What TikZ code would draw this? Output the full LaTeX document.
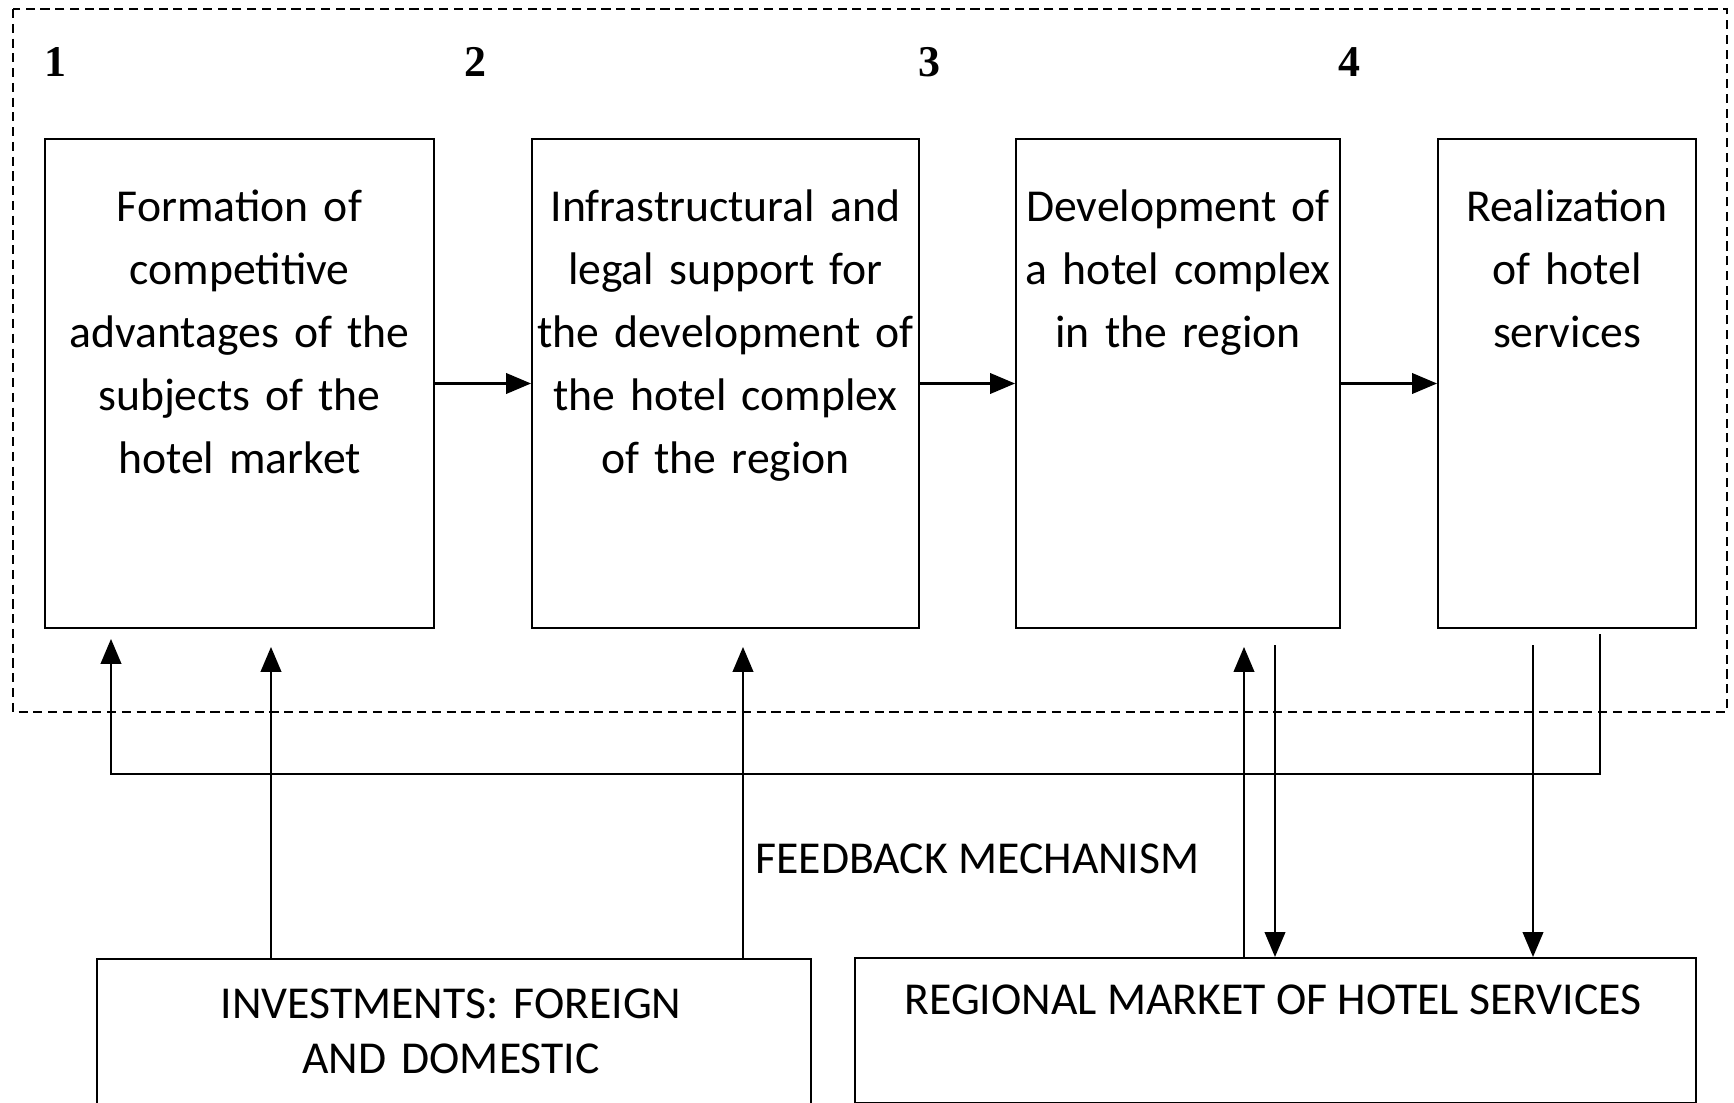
\documentclass[tikz,border=0pt]{standalone}
\usepackage{fontspec}
\setmainfont{Carlito}
\newfontfamily\numfont{Liberation Serif}
\usetikzlibrary{arrows}

\tikzset{
  stage/.style={draw, line width=0.6pt, minimum height=4.89cm, inner sep=0pt},
  stagetext/.style={anchor=base, align=center, inner sep=0pt, font=\fontsize{13}{17.9}\selectfont},
  flow/.style={line width=0.6pt, -triangle 45},
  stagenum/.style={anchor=base, inner sep=0pt, font=\numfont\fontsize{12.5}{15}\selectfont\bfseries},
  source/.style={draw, line width=0.6pt, minimum height=1.45cm, inner sep=0pt}
}

\begin{document}
\begin{tikzpicture}
          \useasboundingbox (0,0) rectangle (17.34,-11.03);
          % dashed frame round the four stages
          \draw[line width=0.6pt, dash pattern=on 2.6pt off 1.6pt] (0.13,-0.09) rectangle (17.27,-7.12);
          % stage numbers
          \node[stagenum] (n1) at (0.55,-0.77) {1};
          \node[stagenum] (n2) at (4.75,-0.77) {2};
          \node[stagenum] (n3) at (9.29,-0.77) {3};
          \node[stagenum] (n4) at (13.49,-0.77) {4};
          % stages
          \node[stage, minimum width=3.89cm] (formation) at (2.395,-3.835) {};
          \node[stage, minimum width=3.87cm] (support) at (7.255,-3.835) {};
          \node[stage, minimum width=3.24cm] (develop) at (11.78,-3.835) {};
          \node[stage, minimum width=2.58cm] (realize) at (15.67,-3.835) {};
          \node[stagetext, text width=3.8cm] (tformation) at ([yshift=-0.84cm]formation.north)
            {Formation of\\competitive\\advantages of the\\subjects of the\\hotel market};
          \node[stagetext, text width=3.8cm] (tsupport) at ([yshift=-0.84cm]support.north)
            {Infrastructural and\\legal support for\\the development of\\the hotel complex\\of the region};
          \node[stagetext, text width=3.2cm] (tdevelop) at ([yshift=-0.84cm]develop.north)
            {Development of\\a hotel complex\\in the region};
          \node[stagetext, text width=2.5cm] (trealize) at ([yshift=-0.84cm]realize.north)
            {Realization\\of hotel\\services};
          % arrows between stages
          \draw[flow] (formation.east) -- (support.west);
          \draw[flow] (support.east) -- (develop.west);
          \draw[flow] (develop.east) -- (realize.west);
          % investments and market
          \node[source, minimum width=7.14cm] (invest) at (4.54,-10.315) {};
          \node[source, minimum width=8.41cm] (market) at (12.755,-10.305) {};
          \node[stagetext, text width=7cm, font=\fontsize{13}{15.6}\selectfont] (tinvest) at ([yshift=-0.61cm]invest.north -| 4.51,0)
            {INVESTMENTS: FOREIGN\\AND DOMESTIC};
          \node[stagetext] (tmarket) at ([yshift=-0.58cm]market.north -| 12.73,0)
            {REGIONAL MARKET OF HOTEL SERVICES};
          % feedback
          \coordinate (fbstart) at (16.00,-6.34);
          \coordinate (fbend) at (1.11,-6.39);
          \draw[flow] (fbstart) -- ++(0,-1.40) -| (fbend);
          \node[anchor=base west, inner sep=0pt, font=\fontsize{13}{15.6}\selectfont] (feedback) at (7.55,-8.73) {FEEDBACK MECHANISM};
          % arrows from investments
          \coordinate (inv1) at (2.71,-6.47);
          \coordinate (inv2) at (7.43,-6.47);
          \draw[flow] (invest.north -| inv1) -- (inv1);
          \draw[flow] (invest.north -| inv2) -- (inv2);
          % arrows to and from the market
          \coordinate (mkup) at (12.44,-6.47);
          \coordinate (mkd1) at (12.75,-6.45);
          \coordinate (mkd2) at (15.33,-6.45);
          \draw[flow] (market.north -| mkup) -- (mkup);
          \draw[flow] (mkd1) -- (market.north -| mkd1);
          \draw[flow] (mkd2) -- (market.north -| mkd2);
        \end{tikzpicture}
\end{document}
